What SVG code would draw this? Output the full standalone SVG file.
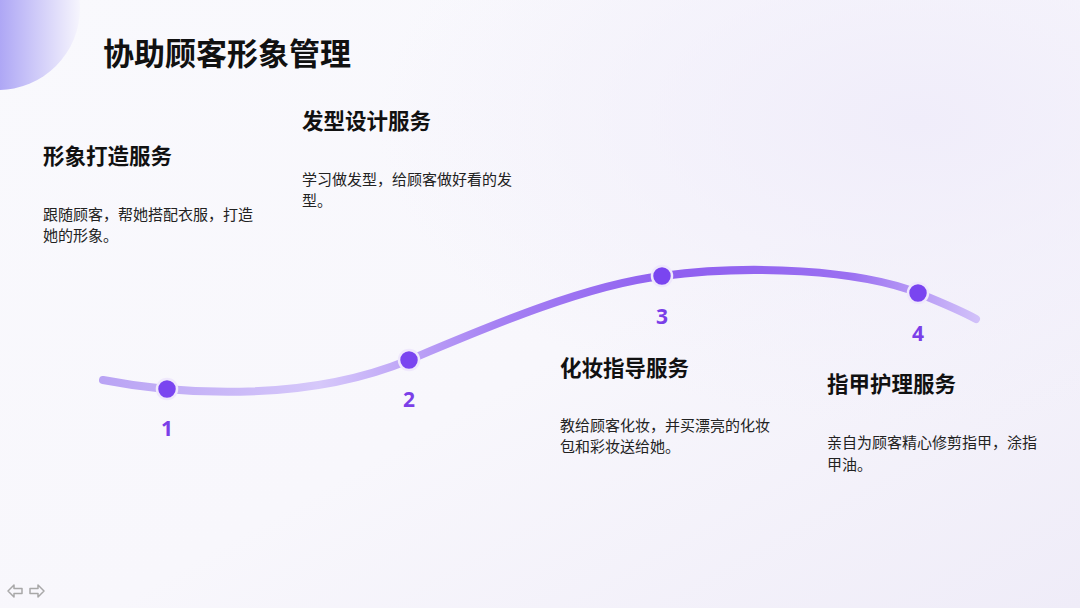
<svg xmlns="http://www.w3.org/2000/svg" width="1080" height="608" viewBox="0 0 1080 608">
<defs>
<linearGradient id="bg" x1="0" y1="0" x2="1" y2="1">
<stop offset="0" stop-color="#f9f9fd"/>
<stop offset="0.55" stop-color="#f8f7fc"/>
<stop offset="1" stop-color="#efecf8"/>
</linearGradient>
<radialGradient id="glow" cx="0.85" cy="0.2" r="0.5">
<stop offset="0" stop-color="#f0edfa"/>
<stop offset="1" stop-color="#f0edfa" stop-opacity="0"/>
</radialGradient>
<linearGradient id="orb" x1="0" y1="0" x2="1" y2="0">
<stop offset="0" stop-color="#6f63ee"/>
<stop offset="0.45" stop-color="#a59df4"/>
<stop offset="1" stop-color="#f6f5fd"/>
</linearGradient>
<linearGradient id="line" gradientUnits="userSpaceOnUse" x1="100" y1="0" x2="980" y2="0">
<stop offset="0" stop-color="#b9a3f4"/>
<stop offset="0.25" stop-color="#d6c8fa"/>
<stop offset="0.45" stop-color="#a681f3"/>
<stop offset="0.65" stop-color="#8f5ff0"/>
<stop offset="0.85" stop-color="#9a6ff1"/>
<stop offset="1" stop-color="#d2c2f9"/>
</linearGradient>
<style>
.h{font-family:"Noto Sans CJK SC","Noto Sans",sans-serif;font-weight:700;font-size:21.5px;fill:#111}
.b{font-family:"Noto Sans CJK SC","Noto Sans",sans-serif;font-size:15px;fill:#222}
.n{font-family:"Noto Sans","Noto Sans CJK SC",sans-serif;font-weight:700;font-size:21px;fill:#7b3fe8;text-anchor:middle}
.dot{fill:#7a45f0;stroke:#efe8fc;stroke-width:2.5}
.nav{fill:none;stroke:#a8a8a8;stroke-width:1.5;stroke-linejoin:round}
</style>
</defs>
<rect width="1080" height="608" fill="url(#bg)"/>
<rect width="1080" height="608" fill="url(#glow)"/>
<circle cx="-2" cy="8" r="82" fill="url(#orb)"/>
<text x="103" y="65" font-family="Noto Sans CJK SC, Noto Sans, sans-serif" font-weight="700" font-size="31" fill="#111">协助顾客形象管理</text>

<g id="connectors">
<path d="M103,380 C170,393 300,405 409,360 C485,328 585,285 662,276 C750,264 860,270 918,293 C940,302 960,310 976,319" fill="none" stroke="url(#line)" stroke-width="8" stroke-linecap="round"/>
</g>

<g id="node1">
<circle class="dot" cx="167" cy="389" r="10"/>
<text class="n" x="167" y="436">1</text>
<text class="h" x="43" y="164">形象打造服务</text>
<text class="b" x="43" y="220">跟随顾客，帮她搭配衣服，打造</text>
<text class="b" x="43" y="241">她的形象。</text>
</g>
<g id="node2">
<circle class="dot" cx="409" cy="360" r="10"/>
<text class="n" x="409" y="407">2</text>
<text class="h" x="302" y="129">发型设计服务</text>
<text class="b" x="302" y="185">学习做发型，给顾客做好看的发</text>
<text class="b" x="302" y="206">型。</text>
</g>
<g id="node3">
<circle class="dot" cx="662" cy="276" r="10"/>
<text class="n" x="662" y="324">3</text>
<text class="h" x="560" y="376">化妆指导服务</text>
<text class="b" x="560" y="431">教给顾客化妆，并买漂亮的化妆</text>
<text class="b" x="560" y="452">包和彩妆送给她。</text>
</g>
<g id="node4">
<circle class="dot" cx="918" cy="293" r="10"/>
<text class="n" x="918" y="341">4</text>
<text class="h" x="827" y="392">指甲护理服务</text>
<text class="b" x="827" y="448">亲自为顾客精心修剪指甲，涂指</text>
<text class="b" x="827" y="470">甲油。</text>
</g>
<g id="nav">
<path class="nav" d="M8,591 L14,585 L14,588.5 L22,588.5 L22,593.5 L14,593.5 L14,597 Z"/>
<path class="nav" d="M44,591 L38,585 L38,588.5 L30,588.5 L30,593.5 L38,593.5 L38,597 Z"/>
</g>
</svg>
